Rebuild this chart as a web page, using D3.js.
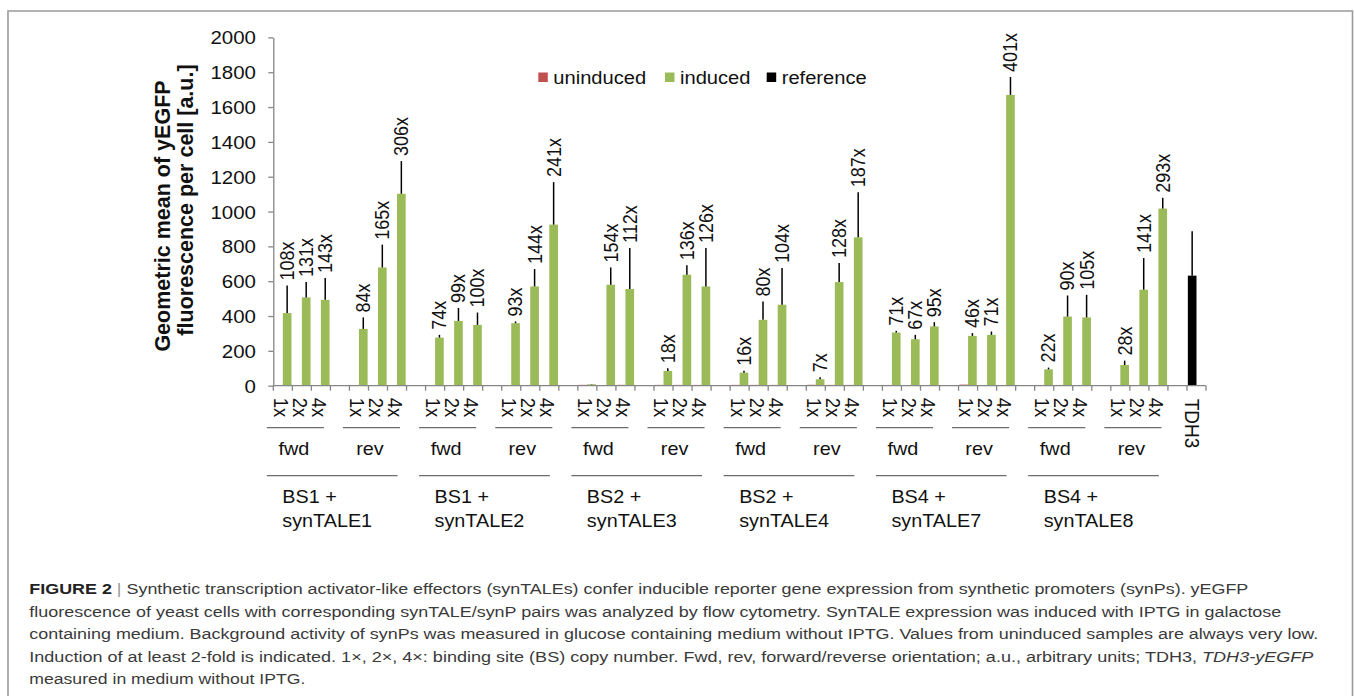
<!DOCTYPE html>
<html>
<head>
<meta charset="utf-8">
<script src="https://cdn.jsdelivr.net/npm/d3@7"></script>
<style>
body { margin: 0; background: #fff; }
svg { display: block; font-family: "Liberation Sans", Arial, sans-serif; }
</style>
</head>
<body>
<svg width="1354" height="696"></svg>
<script>
// data
var groupTop = ["BS1 +", "BS1 +", "BS2 +", "BS2 +", "BS4 +", "BS4 +"];
var groupBottom = ["synTALE1", "synTALE2", "synTALE3", "synTALE4", "synTALE7", "synTALE8"];
var orientations = ["fwd", "rev"];
var copies = ["1x", "2x", "4x"];

// per group: fwd 1x,2x,4x then rev 1x,2x,4x
var inducedMean = [
  [417, 507, 493, 326, 679, 1102],
  [276, 372, 349, 359, 570, 925],
  [8, 580, 555, 85, 637, 570],
  [75, 378, 465, 37, 595, 852],
  [305, 267, 340, 286, 292, 1670],
  [94, 397, 392, 119, 551, 1017]
];
var inducedErr = [
  [159, 88, 125, 66, 131, 188],
  [16, 74, 71, 10, 100, 244],
  [2, 99, 236, 15, 54, 221],
  [11, 106, 211, 11, 110, 259],
  [10, 25, 25, 16, 19, 103],
  [10, 121, 130, 25, 182, 62]
];
var uninducedMean = [
  [3.9, 3.9, 3.4, 3.9, 4.1, 3.6],
  [3.7, 3.8, 3.5, 3.9, 4.0, 3.8],
  [5.0, 3.8, 5.0, 4.7, 4.7, 4.5],
  [4.7, 4.7, 4.5, 5.3, 4.6, 4.6],
  [4.3, 4.0, 3.6, 6.2, 4.1, 4.2],
  [4.3, 4.4, 3.7, 4.2, 3.9, 3.5]
];
var foldLabels = [
  ["108x", "131x", "143x", "84x", "165x", "306x"],
  ["74x", "99x", "100x", "93x", "144x", "241x"],
  ["", "154x", "112x", "18x", "136x", "126x"],
  ["16x", "80x", "104x", "7x", "128x", "187x"],
  ["71x", "67x", "95x", "46x", "71x", "401x"],
  ["22x", "90x", "105x", "28x", "141x", "293x"]
];
var referenceLabel = "TDH3";
var referenceMean = 632;
var referenceErr = 255;

var legendItems = ["uninduced", "induced", "reference"];
var colors = { uninduced: "#c0504d", induced: "#9bbb59", reference: "#000000" };

var captionLines = [
  [["FIGURE 2", "b"], [" | ", "sep"], ["Synthetic transcription activator-like effectors (synTALEs) confer inducible reporter gene expression from synthetic promoters (synPs). yEGFP", ""]],
  [["fluorescence of yeast cells with corresponding synTALE/synP pairs was analyzed by flow cytometry. SynTALE expression was induced with IPTG in galactose", ""]],
  [["containing medium. Background activity of synPs was measured in glucose containing medium without IPTG. Values from uninduced samples are always very low.", ""]],
  [["Induction of at least 2-fold is indicated. 1×, 2×, 4×: binding site (BS) copy number. Fwd, rev, forward/reverse orientation; a.u., arbitrary units; TDH3, ", ""], ["TDH3-yEGFP", "i"]],
  [["measured in medium without IPTG.", ""]]
];
var captionWidths = [1219, 1252, 1289, 1284, 276];

var svg = d3.select("svg");
var SX = 1.1; // the figure is a little wider than tall

// flatten into categories: 6 groups x (3 + gap) x 2, then TDH3
var bars = [];
groupTop.forEach(function (g, gi) {
  orientations.forEach(function (o, oi) {
    copies.forEach(function (c, ci) {
      var k = oi * 3 + ci;
      bars.push({
        idx: gi * 8 + oi * 4 + ci,
        copy: c,
        induced: inducedMean[gi][k],
        err: inducedErr[gi][k],
        uninduced: uninducedMean[gi][k],
        label: foldLabels[gi][k]
      });
    });
  });
});
var nCat = groupTop.length * 8 + 1;
var refIdx = nCat - 1;

var x = d3.scaleBand().domain(d3.range(nCat)).range([273.3, 1206]);
var slot = d3.scaleBand().domain(["left", "right"]).range([0, x.bandwidth()]).paddingOuter(0.1);
var y = d3.scaleLinear().domain([0, 2000]).range([385.7, 37.4]);

// frame
svg.append("path")
  .attr("d", "M8,700V11H1352.5V700")
  .attr("fill", "none")
  .attr("stroke", "#9a9a9a")
  .attr("stroke-width", 1.6);

// y axis
var yAxis = svg.append("g")
  .attr("transform", "translate(" + x.range()[0] + ",0)")
  .call(d3.axisLeft(y).tickValues(d3.range(0, 2001, 200)).tickFormat(d3.format("d")).tickSize(5).tickSizeOuter(0));
yAxis.select(".domain").attr("stroke", "#868686").attr("stroke-width", 1.3);
yAxis.selectAll(".tick line").attr("stroke", "#868686").attr("stroke-width", 1.3);
yAxis.selectAll(".tick text")
  .attr("x", null)
  .attr("dy", "0.35em")
  .attr("transform", "translate(-17.3,0) scale(" + SX + ",1)")
  .attr("font-size", 18.6)
  .attr("font-family", null)
  .attr("fill", "#111");

svg.append("text")
  .attr("transform", "translate(170,216) rotate(-90)")
  .attr("text-anchor", "middle")
  .attr("font-weight", "bold")
  .attr("font-size", 21.5)
  .attr("fill", "#111")
  .text("Geometric mean of yEGFP");
svg.append("text")
  .attr("transform", "translate(193,200) rotate(-90)")
  .attr("text-anchor", "middle")
  .attr("font-weight", "bold")
  .attr("font-size", 21.5)
  .attr("fill", "#111")
  .text("fluorescence per cell [a.u.]");

// bars
var barG = svg.append("g");
barG.selectAll(".unind")
  .data(bars)
  .enter().append("rect")
  .attr("x", function (d) { return x(d.idx) + slot("left"); })
  .attr("width", slot.bandwidth())
  .attr("y", function (d) { return y(d.uninduced); })
  .attr("height", function (d) { return y(0) - y(d.uninduced); })
  .attr("fill", colors.uninduced);

barG.selectAll(".ind")
  .data(bars)
  .enter().append("rect")
  .attr("x", function (d) { return x(d.idx) + slot("right"); })
  .attr("width", slot.bandwidth())
  .attr("y", function (d) { return y(d.induced); })
  .attr("height", function (d) { return y(0) - y(d.induced); })
  .attr("fill", colors.induced);

barG.append("rect")
  .attr("x", x(refIdx) + slot("left"))
  .attr("width", slot.bandwidth())
  .attr("y", y(referenceMean))
  .attr("height", y(0) - y(referenceMean))
  .attr("fill", colors.reference);

// error bars (upper only)
function greenX(d) { return x(d.idx) + slot("right") + slot.bandwidth() / 2; }
barG.selectAll(".err")
  .data(bars)
  .enter().append("line")
  .attr("x1", greenX).attr("x2", greenX)
  .attr("y1", function (d) { return y(d.induced); })
  .attr("y2", function (d) { return y(d.induced + d.err); })
  .attr("stroke", "#000")
  .attr("stroke-width", 1.5);
barG.append("line")
  .attr("x1", x(refIdx) + slot("left") + slot.bandwidth() / 2)
  .attr("x2", x(refIdx) + slot("left") + slot.bandwidth() / 2)
  .attr("y1", y(referenceMean))
  .attr("y2", y(referenceMean + referenceErr))
  .attr("stroke", "#000")
  .attr("stroke-width", 1.5);

// fold-change labels
svg.append("g").selectAll("text")
  .data(bars.filter(function (d) { return d.label; }))
  .enter().append("text")
  .attr("transform", function (d) {
    return "translate(" + greenX(d) + "," + (y(d.induced + d.err) - 5) + ") scale(" + SX + ",1) rotate(-90)";
  })
  .attr("dy", "0.35em")
  .attr("font-size", 18)
  .attr("fill", "#111")
  .text(function (d) { return d.label; });

// x axis line and ticks at category boundaries
var x0 = x.range()[0], x1 = x.range()[1], y0 = y(0);
svg.append("line")
  .attr("x1", x0).attr("x2", x1)
  .attr("y1", y0).attr("y2", y0)
  .attr("stroke", "#868686")
  .attr("stroke-width", 1.3);
svg.append("g").selectAll("line")
  .data(d3.range(nCat + 1))
  .enter().append("line")
  .attr("x1", function (i) { return x0 + i * x.step(); })
  .attr("x2", function (i) { return x0 + i * x.step(); })
  .attr("y1", y0).attr("y2", y0 + 5)
  .attr("stroke", "#868686")
  .attr("stroke-width", 1.3);

// copy-number tick labels
svg.append("g").selectAll("text")
  .data(bars)
  .enter().append("text")
  .attr("transform", function (d) {
    return "translate(" + (x(d.idx) + x.bandwidth() / 2 - 2) + "," + (y0 + 12) + ") scale(" + SX + ",1) rotate(90)";
  })
  .attr("dy", "0.35em")
  .attr("font-size", 18.5)
  .attr("fill", "#111")
  .text(function (d) { return d.copy; });

svg.append("text")
  .attr("transform", "translate(" + (x(refIdx) + x.bandwidth() / 2 - 4) + "," + (y0 + 13) + ") scale(" + SX + ",1) rotate(90)")
  .attr("dy", "0.35em")
  .attr("font-size", 19)
  .attr("fill", "#111")
  .text(referenceLabel);

// orientation and group labels
var catG = svg.append("g").attr("fill", "#111");
groupTop.forEach(function (g, gi) {
  orientations.forEach(function (o, oi) {
    var a = x(gi * 8 + oi * 4), b = x(gi * 8 + oi * 4 + 2) + x.bandwidth();
    catG.append("line")
      .attr("x1", a - 6.5).attr("x2", b - 6.5)
      .attr("y1", 427.7).attr("y2", 427.7)
      .attr("stroke", "#6e6e6e")
      .attr("stroke-width", 1.3);
    catG.append("text")
      .attr("transform", "translate(" + ((a + b) / 2 - 8) + ",455) scale(" + SX + ",1)")
      .attr("text-anchor", "middle")
      .attr("font-size", 18)
      .text(o);
  });
  var ga = x(gi * 8), gb = x(gi * 8 + 6) + x.bandwidth();
  catG.append("line")
    .attr("x1", ga - 6.5).attr("x2", gb - 9)
    .attr("y1", 475.7).attr("y2", 475.7)
    .attr("stroke", "#6e6e6e")
    .attr("stroke-width", 1.3);
  catG.append("text")
    .attr("transform", "translate(" + (ga + 9) + ",503) scale(" + SX + ",1)")
    .attr("font-size", 18)
    .text(g);
  catG.append("text")
    .attr("transform", "translate(" + (ga + 9) + ",527) scale(" + SX + ",1)")
    .attr("font-size", 18)
    .text(groupBottom[gi]);
});

// legend
var legendX = [538.3, 665, 766.7];
var legend = svg.append("g").selectAll("g")
  .data(legendItems)
  .enter().append("g")
  .attr("transform", function (d, i) { return "translate(" + legendX[i] + ",72.5)"; });
legend.append("rect")
  .attr("width", 9.5).attr("height", 9.5)
  .attr("fill", function (d) { return colors[d]; });
legend.append("text")
  .attr("transform", "translate(15,11.5) scale(" + SX + ",1)")
  .attr("font-size", 18.3)
  .attr("fill", "#111")
  .text(function (d) { return d; });

// caption
var cap = svg.append("g").attr("fill", "#3a3a3a");
captionLines.forEach(function (line, li) {
  var t = cap.append("text")
    .attr("x", 29.3)
    .attr("y", 594 + li * 22.6)
    .attr("font-size", 15.4)
    .attr("textLength", captionWidths[li])
    .attr("lengthAdjust", "spacingAndGlyphs");
  line.forEach(function (part) {
    var s = t.append("tspan").text(part[0]);
    if (part[1] == "b") s.attr("font-weight", "bold").attr("fill", "#222");
    if (part[1] == "sep") s.attr("fill", "#999");
    if (part[1] == "i") s.attr("font-style", "italic");
  });
});
</script>
</body>
</html>
